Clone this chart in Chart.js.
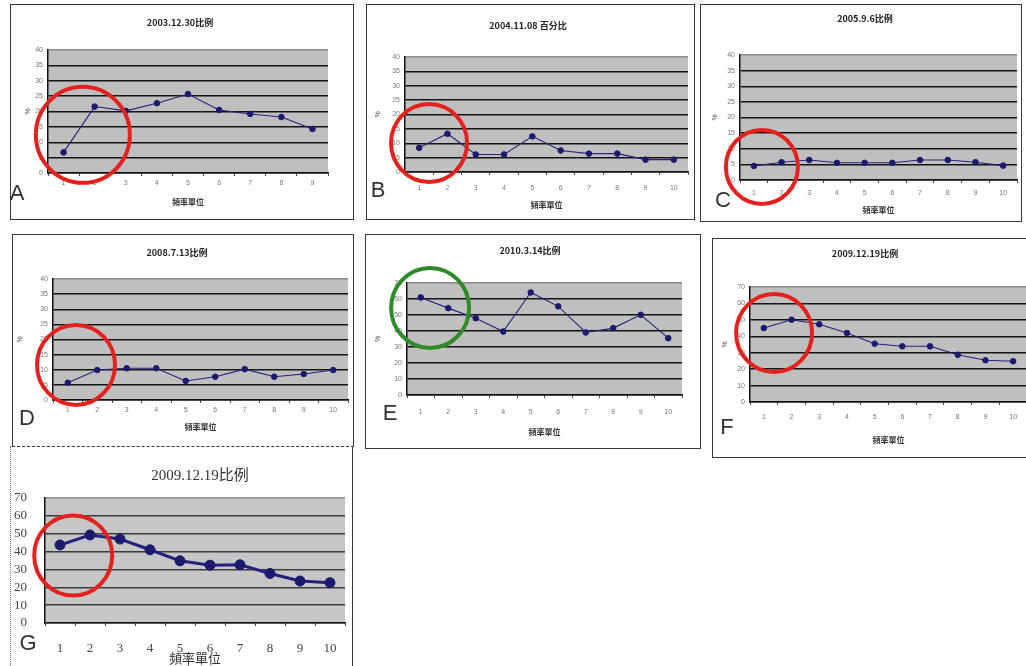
<!DOCTYPE html>
<html><head><meta charset="utf-8">
<script src="https://cdn.jsdelivr.net/npm/chart.js@4.4.0/dist/chart.umd.min.js"></script>
<style>
html,body{margin:0;padding:0;background:#fff;width:1026px;height:666px;overflow:hidden;position:relative;}
.box{position:absolute;border:1.5px solid #3a3a3a;box-sizing:border-box;}
canvas{position:absolute;}
.t{position:absolute;transform:translate(-50%,-50%);white-space:nowrap;font-family:"Noto Sans CJK SC","Noto Sans CJK TC";font-size:9px;font-weight:bold;color:#222;}
.l{position:absolute;transform:translate(-50%,-50%);font-family:"Liberation Sans","DejaVu Sans";font-size:22px;color:#333;line-height:1;}
</style></head><body>
<script>
// ---- data ----
const categories9 = ['1','2','3','4','5','6','7','8','9'];
const categories10 = ['1','2','3','4','5','6','7','8','9','10'];
const titles = ['2003.12.30比例','2004.11.08 百分比','2005.9.6比例','2008.7.13比例','2010.3.14比例','2009.12.19比例','2009.12.19比例'];
const xAxisTitle = '頻率單位';
const yAxisTitle = '%';
const valuesA = [6.7, 21.6, 20.2, 22.7, 25.7, 20.5, 19.2, 18.2, 14.3];
const valuesB = [8.4, 13.3, 6.1, 6.1, 12.4, 7.5, 6.4, 6.4, 4.3, 4.3];
const valuesC = [4.5, 5.7, 6.4, 5.5, 5.5, 5.5, 6.4, 6.4, 5.7, 4.6];
const valuesD = [5.7, 9.9, 10.5, 10.5, 6.3, 7.7, 10.2, 7.7, 8.6, 9.9];
const valuesE = [61, 54.3, 48, 39.7, 64.1, 55.4, 39.1, 41.8, 50.1, 35.5];
const valuesF = [45, 50.1, 47.3, 42, 35.5, 33.9, 33.9, 28.8, 25.4, 24.8];
const valuesG = [43.7, 49.3, 47, 41, 34.8, 32.4, 32.6, 27.7, 23.5, 22.6];
const yTicks40 = [0,5,10,15,20,25,30,35,40];
const yTicks70 = [0,10,20,30,40,50,60,70];

// ---- layout ----
const RED = '#e3211f', GREEN = '#2f8a2a';
const panels = [
 {letter:'A', title:titles[0], cats:categories9, data:valuesA, ticks:yTicks40, box:[10,4,354,220], plot:[48,50,328,173], tx:180, ty:22, lp:[17,193], labelY:183, xtY:202, yt:18, ring:{x:0.62,y:12.4,r:47,c:RED}},
 {letter:'B', title:titles[1], cats:categories10, data:valuesB, ticks:yTicks40, box:[366,4,695,220], plot:[405,57,688,172], tx:528, ty:25, lp:[378,190], labelY:188, xtY:205, yt:12, ring:{x:0.35,y:10.1,r:38,c:RED}},
 {letter:'C', title:titles[2], cats:categories10, data:valuesC, ticks:yTicks40, box:[700,4,1022,222], plot:[740,55,1018,180], tx:865, ty:18, lp:[723,200], labelY:193, xtY:210, yt:15, ring:{x:0.29,y:4.2,r:36,c:RED}},
 {letter:'D', title:titles[3], cats:categories10, data:valuesD, ticks:yTicks40, box:[12,234,354,447], plot:[53,279,348,400], tx:177, ty:252, lp:[27,418], labelY:410, xtY:427, yt:8, ring:{x:0.28,y:11.6,r:39,c:RED}},
 {letter:'E', title:titles[4], cats:categories10, data:valuesE, ticks:yTicks70, box:[365,234,701,449], plot:[407,283,682,395], tx:530, ty:250, lp:[390,413], labelY:412, xtY:432, yt:13, ring:{x:0.34,y:54.4,r:39,c:GREEN}},
 {letter:'F', title:titles[5], cats:categories10, data:valuesF, ticks:yTicks70, box:[712,238,1040,458], plot:[750,287,1027,402], tx:865, ty:253, lp:[727,427], labelY:417, xtY:440, yt:13, ring:{x:0.37,y:42,r:38,c:RED}},
 {letter:'G', title:titles[6], cats:categories10, data:valuesG, ticks:yTicks70, box:[10,446,353,680], plot:[45,498,345,623], tx:200, ty:473, lp:[28,643], labelY:649, xtY:660, yt:null, ring:{x:0.44,y:37.8,r:39,c:RED}, big:true}
];

panels.forEach(p => {
  const [bl,bt,br,bb] = p.box, [pl,pt,pr,pb] = p.plot;
  const W = br-bl, H = bb-bt;
  const box = document.createElement('div');
  box.className = 'box';
  Object.assign(box.style,{left:bl+'px',top:bt+'px',width:W+'px',height:H+'px'});
  if (p.big) { box.style.borderTop='none'; box.style.borderBottom='none'; box.style.borderLeft='1.5px dotted #777'; }
  if (p.letter==='D') { box.style.borderBottom='1.5px dashed #333'; }
  document.body.appendChild(box);

  const cv = document.createElement('canvas');
  cv.width = W; cv.height = H;
  Object.assign(cv.style,{left:bl+'px',top:bt+'px',width:W+'px',height:H+'px'});
  document.body.appendChild(cv);

  const t = document.createElement('div');
  t.className='t'; t.textContent = p.title;
  Object.assign(t.style,{left:p.tx+'px',top:p.ty+'px'});
  if (p.big) { t.style.fontFamily='"Liberation Serif","Noto Sans CJK SC"'; t.style.fontSize='15px'; t.style.fontWeight='normal'; t.style.color='#333'; }
  document.body.appendChild(t);

  const L = document.createElement('div');
  L.className='l'; L.textContent = p.letter;
  Object.assign(L.style,{left:p.lp[0]+'px',top:p.lp[1]+'px'});
  document.body.appendChild(L);

  const tickFont = p.big ? {family:'"Liberation Serif"', size:13} : {family:'"Liberation Sans"', size:7};
  const xtFont = p.big ? {family:'"Liberation Serif","Noto Sans CJK SC"', size:13} : {family:'"Noto Sans CJK SC"', size:8, weight:'bold'};
  const tl = 3;
  const xPad = p.labelY - pb - tl - tickFont.size*1.2/2;
  const xtPadB = (bb - p.xtY) - xtFont.size*1.2/2;
  const yMax = p.ticks[p.ticks.length-1];
  const gridDark = p.big ? '#3c3c3c' : '#151515';

  new Chart(cv, {
    type:'line',
    data:{labels:p.cats, datasets:[{
      data:p.data,
      borderColor: '#23237c',
      borderWidth: p.big ? 3 : 1.1,
      pointBackgroundColor:'#1b1b6e',
      pointBorderColor:'#1b1b6e',
      pointRadius: p.big ? 5 : 2.8,
      pointBorderWidth: 1,
      tension:0,
      clip:false
    }]},
    options:{
      responsive:false, animation:false,
      layout:{padding:{top:pt-bt, right:br-pr, left:0, bottom:0}},
      plugins:{legend:{display:false}, tooltip:{enabled:false}},
      scales:{
        x:{
          offset:true,
          grid:{display:true, drawOnChartArea:false, drawTicks:true, tickLength:tl, color:'#444', offset:true},
          border:{display:true, color:'#111', width:1.5},
          ticks:{font:tickFont, color: p.big ? '#444' : '#777', padding:xPad, maxRotation:0, autoSkip:false},
          title:{display:true, text:xAxisTitle, font:xtFont, color:'#333', padding:{top:0, bottom:xtPadB}},
          afterFit:(s)=>{ s.height = bb - pb; }
        },
        y:{
          min:0, max:yMax,
          afterBuildTicks:(s)=>{ s.ticks = p.ticks.map(v=>({value:v})); },
          grid:{color:(c)=> c.tick && c.tick.value===yMax ? '#8a8a8a' : gridDark, lineWidth:1.4, drawTicks:false},
          border:{display:true, color:'#111', width:1.5},
          ticks:{font:tickFont, color: p.big ? '#444' : '#777', padding: p.big ? 18 : 5, autoSkip:false},
          title:{display: p.yt!==null, text:yAxisTitle, font:{family:'"Liberation Sans"', size:7}, color:'#555', padding:{top: (p.yt||0) - 4, bottom:0}},
          afterFit:(s)=>{ s.width = pl - bl; }
        }
      }
    },
    plugins:[{
      id:'bg',
      beforeDraw(chart){
        const a = chart.chartArea, ctx = chart.ctx;
        ctx.save(); ctx.fillStyle = p.big ? '#c6c6c6' : '#bfbfbf'; ctx.fillRect(a.left,a.top,a.right-a.left,a.bottom-a.top); ctx.restore();
      }
    },{
      id:'ring',
      afterDraw(chart){
        const r = p.ring, ctx = chart.ctx;
        const x = chart.scales.x.getPixelForValue(r.x), y = chart.scales.y.getPixelForValue(r.y);
        ctx.save(); ctx.strokeStyle=r.c; ctx.lineWidth=4; ctx.beginPath();
        ctx.ellipse(x,y,r.r,r.r+1,0,0,Math.PI*2); ctx.stroke(); ctx.restore();
      }
    }]
  });
});
</script>
</body></html>
